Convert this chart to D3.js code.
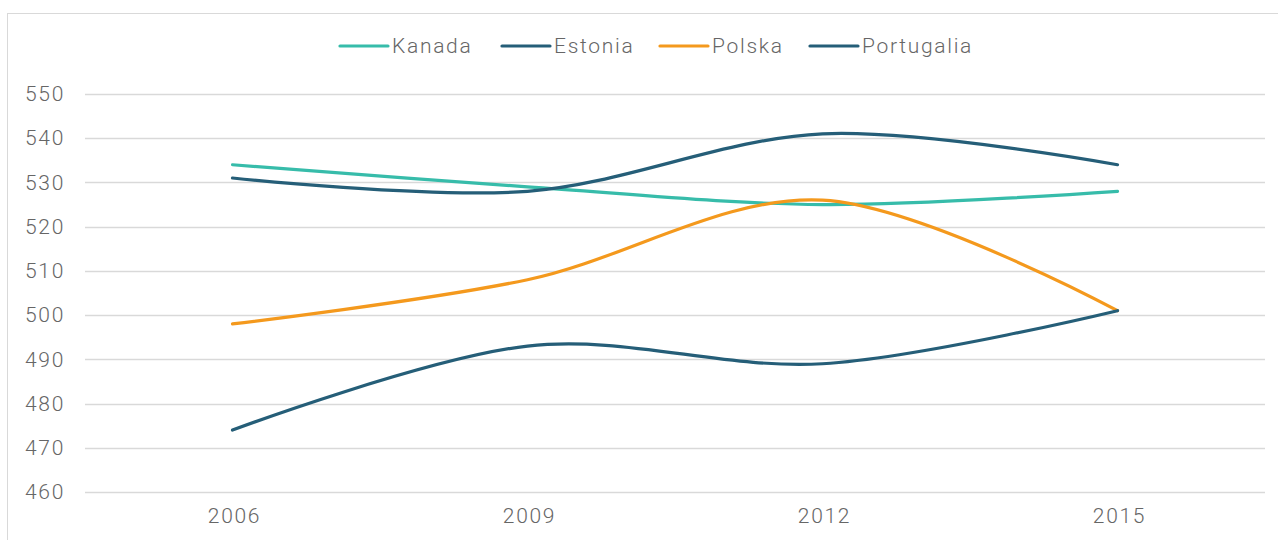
<!DOCTYPE html>
<html>
<head>
<meta charset="utf-8">
<script src="https://cdn.jsdelivr.net/npm/d3@7"></script>
<style>
  body { margin: 0; background: #fff; }
  text { font-family: Roboto, "Liberation Sans", sans-serif; font-weight: 300; fill: #666; letter-spacing: 1.7px; }
</style>
</head>
<body>
<div class="chart"></div>
<script>
// === Data ===
const years = ["2006", "2009", "2012", "2015"];
const kanada = [534, 529, 525, 528];
const estonia = [531, 528, 541, 534];
const polska = [498, 508, 526, 501];
const portugalia = [474, 493, 489, 501];
const yTicks = [460, 470, 480, 490, 500, 510, 520, 530, 540, 550];

const series = [
    {name: "Kanada", values: kanada, color: "#37bcaa"},
    {name: "Estonia", values: estonia, color: "#255e78"},
    {name: "Polska", values: polska, color: "#f4991d"},
    {name: "Portugalia", values: portugalia, color: "#255e78"}
];

//Chart init
const W = 1278, H = 540;
const margin = {top: 94, right: 13, bottom: 48, left: 85};
const width = W - margin.left - margin.right;
const height = H - margin.top - margin.bottom;

const root = d3.select(".chart").append("svg")
    .attr("width", W)
    .attr("height", H);

// outer chart border (continues past the right/bottom edge)
root.append("rect")
    .attr("x", 7.5).attr("y", 13.5)
    .attr("width", W + 20).attr("height", H + 20)
    .attr("fill", "none")
    .attr("stroke", "#d9d9d9")
    .attr("stroke-width", 1);

const svg = root.append("g")
    .attr("transform", "translate(" + margin.left + "," + margin.top + ")");

// === Scales ===
const xScale = d3.scaleBand()
    .domain(years)
    .range([0, width]);
const yScale = d3.scaleLinear()
    .domain([460, 550])
    .range([height, 0]);

// gridlines
svg.append("g")
    .selectAll("line")
    .data(yTicks)
    .enter()
    .append("line")
    .attr("x1", 0).attr("x2", width)
    .attr("y1", d => Math.round(yScale(d)) + 0.5)
    .attr("y2", d => Math.round(yScale(d)) + 0.5)
    .attr("stroke", "#d9d9d9")
    .attr("stroke-width", 1.5);

// === Axes ===
const yAxis = d3.axisLeft(yScale).tickValues(yTicks).tickSize(0).tickPadding(20);
const xAxis = d3.axisBottom(xScale).tickSize(0).tickPadding(16);

svg.append("g")
    .attr("class", "y-axis")
    .call(yAxis)
    .call(g => g.select(".domain").remove())
    .selectAll("text")
    .attr("font-size", "21px")
    .style("font-family", "Roboto, 'Liberation Sans', sans-serif")
    .attr("fill", "#666");

svg.append("g")
    .attr("class", "x-axis")
    .attr("transform", "translate(0," + height + ")")
    .call(xAxis)
    .call(g => g.select(".domain").remove())
    .selectAll("text")
    .attr("font-size", "21px")
    .attr("dx", "2")
    .style("font-family", "Roboto, 'Liberation Sans', sans-serif")
    .attr("fill", "#666");

// === Lines ===
const line = d3.line()
    .x((d, i) => xScale(years[i]) + xScale.bandwidth() / 2)
    .y(d => yScale(d))
    .curve(d3.curveCardinal.tension(0));

svg.selectAll(".series")
    .data(series)
    .enter()
    .append("path")
    .attr("class", "series")
    .attr("d", d => line(d.values))
    .attr("fill", "none")
    .attr("stroke", d => d.color)
    .attr("stroke-width", 3.2)
    .attr("stroke-linecap", "round");

// === Legend ===
const legendX = [340, 502, 660, 810];
const legend = root.append("g")
    .selectAll("g")
    .data(series)
    .enter()
    .append("g")
    .attr("transform", (d, i) => "translate(" + legendX[i] + ",46)");

legend.append("line")
    .attr("x1", 0).attr("x2", 48)
    .attr("stroke", d => d.color)
    .attr("stroke-width", 3.2)
    .attr("stroke-linecap", "round");

legend.append("text")
    .attr("x", 52)
    .attr("dy", "0.35em")
    .attr("font-size", "21px")
    .text(d => d.name);
</script>
</body>
</html>
